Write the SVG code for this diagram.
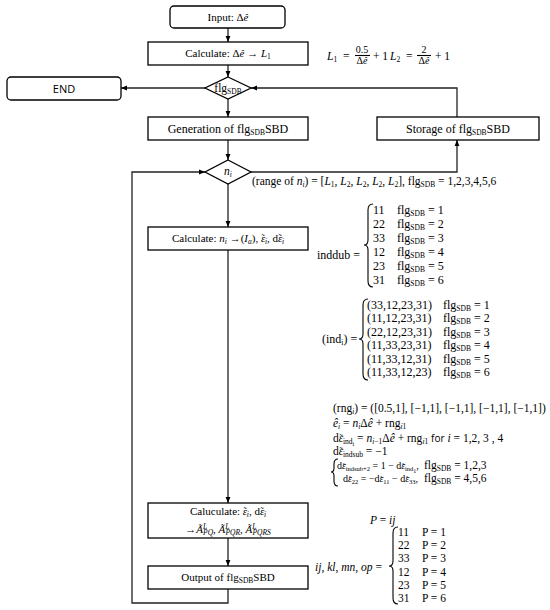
<svg xmlns="http://www.w3.org/2000/svg" width="550" height="610" viewBox="0 0 550 610">
<defs>
<marker id="ah" viewBox="0 0 10 10" refX="10" refY="5" markerUnits="userSpaceOnUse" markerWidth="6" markerHeight="6" orient="auto"><path d="M0,1 L10,5 L0,9 z" fill="#000"/></marker>
<style>
.box{fill:#fff;stroke:#000;stroke-width:1.3}
.ln{fill:none;stroke:#222;stroke-width:1.3}
.br{fill:none;stroke:#000;stroke-width:1.1}
.t{font-family:"Liberation Serif",serif;font-size:11px;fill:#000}
.m{font-family:"Liberation Serif",serif;font-size:11.5px;fill:#000}
.b{font-size:12px}
.n{font-size:10px}
.sans{font-family:"Open Sans","Liberation Sans",sans-serif;font-size:11px;fill:#000}
.i{font-style:italic}
.s{font-size:7.5px;baseline-shift:-2px}
.n .s{font-size:6.5px}
.ss{font-size:6px;baseline-shift:-4px}
.sp{font-size:7.5px;baseline-shift:4px}
.tl{font-size:10px;font-style:normal}
.n .tl{font-size:9px}
.mid{text-anchor:middle}
</style>
</defs>
<rect width="550" height="610" fill="#fff"/>
<g id="connectors">
<path class="ln" d="M228,28 V42" marker-end="url(#ah)"/>
<path class="ln" d="M228,65 V77" marker-end="url(#ah)"/>
<path class="ln" d="M228,99 V117" marker-end="url(#ah)"/>
<path class="ln" d="M228,140 V160" marker-end="url(#ah)"/>
<path class="ln" d="M228,184 V227" marker-end="url(#ah)"/>
<path class="ln" d="M228,250 V503" marker-end="url(#ah)"/>
<path class="ln" d="M228,538 V566" marker-end="url(#ah)"/>
<path class="ln" d="M205,88 H121" marker-end="url(#ah)"/>
<path class="ln" d="M457,117 V88 H251" marker-end="url(#ah)"/>
<path class="ln" d="M251,172 H457 V140" marker-end="url(#ah)"/>
<path class="ln" d="M228,589 V603 H132 V172 H205" marker-end="url(#ah)"/>
</g>
<g id="input">
<rect class="box" x="170" y="6" width="115" height="22" rx="4"/>
<text class="t mid" x="228" y="21">Input: Δ<tspan class="i">ê</tspan></text>
</g>
<g id="calc1">
<rect class="box" x="148" y="42" width="160" height="23"/>
<text class="t mid" x="228" y="57">Calculate: Δ<tspan class="i">ê</tspan> → <tspan class="i">L</tspan><tspan class="s">1</tspan></text>
</g>
<g id="decision1">
<polygon class="box" points="228,77 251,88 228,99 205,88"/>
<text class="m mid" x="228" y="92">flg<tspan class="s">SDB</tspan></text>
</g>
<g id="end">
<rect class="box" x="7" y="77" width="114" height="23" rx="4"/>
<text class="sans mid" x="64" y="93">END</text>
</g>
<g id="generation">
<rect class="box" x="148" y="117" width="160" height="23"/>
<text class="m b mid" x="228" y="133">Generation of flg<tspan class="s">SDB</tspan>SBD</text>
</g>
<g id="storage">
<rect class="box" x="377" y="117" width="162" height="23"/>
<text class="m b mid" x="458" y="133">Storage of flg<tspan class="s">SDB</tspan>SBD</text>
</g>
<g id="decision2">
<polygon class="box" points="228,160 251,172 228,184 205,172"/>
<text class="m mid i" x="228" y="175">n<tspan class="s i">i</tspan></text>
</g>
<g id="calc2">
<rect class="box" x="148" y="227" width="160" height="23"/>
<text class="t mid" x="228" y="242">Calculate: <tspan class="i">n</tspan><tspan class="s i">i</tspan> →(<tspan class="i">I</tspan><tspan class="s i">a</tspan>), <tspan class="i">ε</tspan><tspan class="tl" dx="-3.7">˜</tspan><tspan class="s i">i</tspan>, d<tspan class="i">ε</tspan><tspan class="tl" dx="-3.7">˜</tspan><tspan class="s i">i</tspan></text>
</g>
<g id="calc3">
<rect class="box" x="148" y="503" width="160" height="35"/>
<text class="t mid" x="228" y="515">Caluculate: <tspan class="i">ε</tspan><tspan class="tl" dx="-3.7">˜</tspan><tspan class="s i">i</tspan>, d<tspan class="i">ε</tspan><tspan class="tl" dx="-3.7">˜</tspan><tspan class="s i">i</tspan></text>
<text class="t mid" x="228" y="533">→<tspan class="i">Ã</tspan><tspan class="sp i">L</tspan><tspan class="s i" dx="-4">PQ</tspan>, <tspan class="i">Ã</tspan><tspan class="sp i">L</tspan><tspan class="s i" dx="-4">PQR</tspan>, <tspan class="i">Ã</tspan><tspan class="sp i">L</tspan><tspan class="s i" dx="-4">PQRS</tspan></text>
</g>
<g id="output">
<rect class="box" x="148" y="566" width="160" height="23"/>
<text class="t mid" x="228" y="581">Output of flg<tspan class="s">SDB</tspan>SBD</text>
</g>
<g id="annotations">
<text class="m i" x="327" y="60">L<tspan class="s" style="font-style:normal">1</tspan></text>
<text class="m" x="343" y="60">=</text>
<text class="m mid" x="362" y="53" style="font-size:10px">0.5</text>
<line class="br" x1="355" y1="55.5" x2="370" y2="55.5"/>
<text class="m mid" x="362" y="64" style="font-size:10px">Δ<tspan class="i">ê</tspan></text>
<text class="m" x="373" y="60">+ 1</text>
<text class="m i" x="390" y="60">L<tspan class="s" style="font-style:normal">2</tspan></text>
<text class="m" x="406" y="60">=</text>
<text class="m mid" x="424" y="53" style="font-size:10px">2</text>
<line class="br" x1="417" y1="55.5" x2="431" y2="55.5"/>
<text class="m mid" x="424" y="64" style="font-size:10px">Δ<tspan class="i">ê</tspan></text>
<text class="m" x="435" y="60">+ 1</text>

<text class="m" x="252" y="185">(range of <tspan class="i">n</tspan><tspan class="s i">i</tspan>) = [<tspan class="i">L</tspan><tspan class="s">1</tspan>, <tspan class="i">L</tspan><tspan class="s">2</tspan>, <tspan class="i">L</tspan><tspan class="s">2</tspan>, <tspan class="i">L</tspan><tspan class="s">2</tspan>, <tspan class="i">L</tspan><tspan class="s">2</tspan>], flg<tspan class="s">SDB</tspan> = 1,2,3,4,5,6</text>

<text class="m b" x="317" y="259">inddub =</text>
<path class="br" d="M373,204 Q368,204 368,210 L368,240 Q368,245 364,245 Q368,245 368,250 L368,281 Q368,287 373,287"/>
<text class="m b" x="373" y="214">11</text><text class="m b" x="397" y="214">flg<tspan class="s">SDB</tspan> = 1</text>
<text class="m b" x="373" y="228">22</text><text class="m b" x="397" y="228">flg<tspan class="s">SDB</tspan> = 2</text>
<text class="m b" x="373" y="242">33</text><text class="m b" x="397" y="242">flg<tspan class="s">SDB</tspan> = 3</text>
<text class="m b" x="373" y="256">12</text><text class="m b" x="397" y="256">flg<tspan class="s">SDB</tspan> = 4</text>
<text class="m b" x="373" y="270">23</text><text class="m b" x="397" y="270">flg<tspan class="s">SDB</tspan> = 5</text>
<text class="m b" x="373" y="284">31</text><text class="m b" x="397" y="284">flg<tspan class="s">SDB</tspan> = 6</text>

<text class="m b" x="322" y="343">(ind<tspan class="s">i</tspan>) =</text>
<path class="br" d="M368,299 Q363,299 363,305 L363,334 Q363,339 359,339 Q363,339 363,344 L363,374 Q363,380 368,380"/>
<text class="m b" x="367" y="309">(33,12,23,31)</text><text class="m b" x="443" y="309">flg<tspan class="s">SDB</tspan> = 1</text>
<text class="m b" x="367" y="322">(11,12,23,31)</text><text class="m b" x="443" y="322">flg<tspan class="s">SDB</tspan> = 2</text>
<text class="m b" x="367" y="336">(22,12,23,31)</text><text class="m b" x="443" y="336">flg<tspan class="s">SDB</tspan> = 3</text>
<text class="m b" x="367" y="349">(11,33,23,31)</text><text class="m b" x="443" y="349">flg<tspan class="s">SDB</tspan> = 4</text>
<text class="m b" x="367" y="363">(11,33,12,31)</text><text class="m b" x="443" y="363">flg<tspan class="s">SDB</tspan> = 5</text>
<text class="m b" x="367" y="376">(11,33,12,23)</text><text class="m b" x="443" y="376">flg<tspan class="s">SDB</tspan> = 6</text>

<text class="m" x="333" y="412">(rng<tspan class="s i">i</tspan>) = ([0.5,1], [−1,1], [−1,1], [−1,1], [−1,1])</text>
<text class="m" x="333" y="427"><tspan class="i">ê</tspan><tspan class="s i">i</tspan> = <tspan class="i">n</tspan><tspan class="s i">i</tspan>Δ<tspan class="i">ê</tspan> + rng<tspan class="s i">i</tspan><tspan class="s">1</tspan></text>
<text class="m" x="333" y="442">d<tspan class="i">ε</tspan><tspan class="tl" dx="-3.7">˜</tspan><tspan class="s">ind</tspan><tspan class="ss">i</tspan> = <tspan class="i">n</tspan><tspan class="s i">i</tspan><tspan class="s">−1</tspan>Δ<tspan class="i">ê</tspan> + rng<tspan class="s i">i</tspan><tspan class="s">1</tspan> <tspan class="sans" style="font-size:10px">for</tspan> <tspan class="i">i</tspan> = 1,2, 3 , 4</text>
<text class="m" x="333" y="455">d<tspan class="i">ε</tspan><tspan class="tl" dx="-3.7">˜</tspan><tspan class="s">indsub</tspan> = −1</text>
<path class="br" d="M338,459 Q334,459 334,464 L334,468 Q334,472 331,472 Q334,472 334,476 L334,481 Q334,486 338,486"/>
<text class="m n" x="337" y="469">d<tspan class="i">ε</tspan><tspan class="tl" dx="-3.2">˜</tspan><tspan class="s">indsub+2</tspan> = 1 − d<tspan class="i">ε</tspan><tspan class="tl" dx="-3.2">˜</tspan><tspan class="s">ind</tspan><tspan class="ss">1</tspan>,</text>
<text class="m" x="424" y="469">flg<tspan class="s">SDB</tspan> = 1,2,3</text>
<text class="m n" x="343" y="482">d<tspan class="i">ε</tspan><tspan class="tl" dx="-3.2">˜</tspan><tspan class="s">22</tspan> = −d<tspan class="i">ε</tspan><tspan class="tl" dx="-3.2">˜</tspan><tspan class="s">11</tspan> − d<tspan class="i">ε</tspan><tspan class="tl" dx="-3.2">˜</tspan><tspan class="s">33</tspan>,</text>
<text class="m" x="424" y="482">flg<tspan class="s">SDB</tspan> = 4,5,6</text>

<text class="m i" x="370" y="524">P <tspan style="font-style:normal">=</tspan> ij</text>
<text class="m" x="315" y="571"><tspan class="i">ij</tspan>, <tspan class="i">kl</tspan>, <tspan class="i">mn</tspan>, <tspan class="i">op</tspan> =</text>
<path class="br" d="M398,527 Q393,527 393,533 L393,561 Q393,566 389,566 Q393,566 393,571 L393,598 Q393,604 398,604"/>
<text class="m" x="398" y="536">11</text><text class="m" x="422" y="536">P = 1</text>
<text class="m" x="398" y="549">22</text><text class="m" x="422" y="549">P = 2</text>
<text class="m" x="398" y="562">33</text><text class="m" x="422" y="562">P = 3</text>
<text class="m" x="398" y="576">12</text><text class="m" x="422" y="576">P = 4</text>
<text class="m" x="398" y="589">23</text><text class="m" x="422" y="589">P = 5</text>
<text class="m" x="398" y="602">31</text><text class="m" x="422" y="602">P = 6</text>
</g>
</svg>
